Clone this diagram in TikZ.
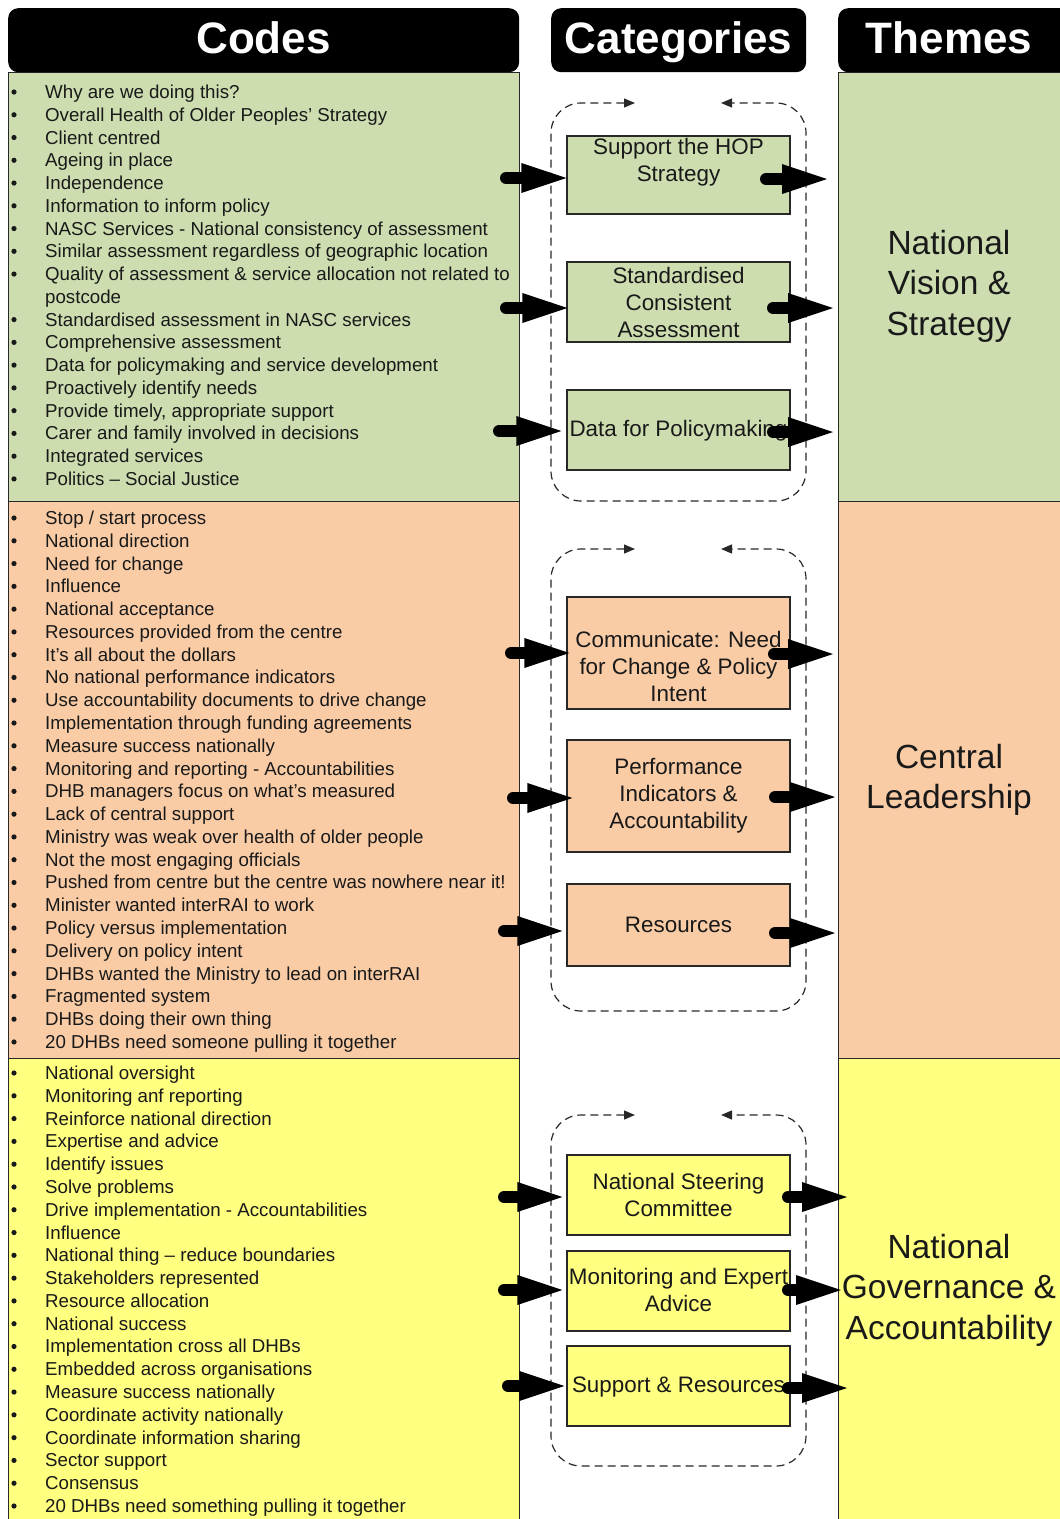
\documentclass[tikz,border=0pt]{standalone}
\usepackage{fontspec}
\setmainfont{Liberation Sans}
\usetikzlibrary{arrows.meta}
\definecolor{codegreen}{RGB}{205,221,176}
\definecolor{codeorange}{RGB}{249,204,166}
\definecolor{codeyellow}{RGB}{255,255,128}
\definecolor{ink}{RGB}{25,25,25}
\definecolor{edge}{RGB}{40,40,40}
\begin{document}
\begin{tikzpicture}[x=1pt,y=-1pt,
  panel/.style={draw=edge, line width=1.2pt, inner sep=0pt, anchor=north west},
  header/.style={fill=black, rounded corners=10pt, inner sep=0pt, anchor=north west, minimum height=64pt},
  headtxt/.style={anchor=base, inner sep=0pt, text=white, font=\fontsize{44}{50}\bfseries\selectfont},
  codetxt/.style={anchor=base west, inner sep=0pt, text=ink, font=\fontsize{18.7}{22}\selectfont},
  catbox/.style={draw=edge, line width=1.3pt, inner sep=0pt, minimum width=223pt},
  cattxt/.style={align=center, inner sep=0pt, text=ink, font=\fontsize{22.4}{27}\selectfont},
  themetxt/.style={align=center, inner sep=0pt, text=ink, font=\fontsize{33.5}{40.5}\selectfont},
  loopline/.style={draw=edge, line width=1.2pt, dash pattern=on 8pt off 5pt, rounded corners=30pt,
    {Triangle[length=11pt,width=9pt]}-{Triangle[length=11pt,width=9pt]}},
  bigarrow/.style={draw=black, line width=12pt, line cap=round,
    -{Triangle[length=45pt,width=30pt,line width=0pt]}}
]
\useasboundingbox (0,0) rectangle (1060,1519);
\clip (0,0) rectangle (1060,1519);

% ---- column panels ----
\node[panel, fill=codegreen,  minimum width=511pt, minimum height=429pt] (codesG) at (8,72) {};
\node[panel, fill=codeorange, minimum width=511pt, minimum height=557pt] (codesO) at (8,501) {};
\node[panel, fill=codeyellow, minimum width=511pt, minimum height=480pt] (codesY) at (8,1058) {};
\node[panel, fill=codegreen,  minimum width=240pt, minimum height=429pt] (themeG) at (838,72) {};
\node[panel, fill=codeorange, minimum width=240pt, minimum height=557pt] (themeO) at (838,501) {};
\node[panel, fill=codeyellow, minimum width=240pt, minimum height=480pt] (themeY) at (838,1058) {};

% ---- headers ----
\node[header, minimum width=511pt] (hCodes) at (8,8) {};
\node[header, minimum width=255pt] (hCats) at (551,8) {};
\node[header, minimum width=240pt] (hThemes) at (838,8) {};
\node[headtxt] (tCodes) at (263.5,53.5) {Codes};
\node[headtxt] (tCats) at (678.5,53.5) {Categories};
\node[headtxt] (tThemes) at (949,53.5) {Themes};

% ---- code lists ----
\foreach \t [count=\i from 0] in {
  Why are we doing this?,
  Overall Health of Older Peoples’ Strategy,
  Client centred,
  Ageing in place,
  Independence,
  Information to inform policy,
  NASC Services - National consistency of assessment,
  Similar assessment regardless of geographic location,
  Quality of assessment \& service allocation not related to,
  postcode,
  Standardised assessment in NASC services,
  Comprehensive assessment,
  Data for policymaking and service development,
  Proactively identify needs,
  {Provide timely, appropriate support},
  Carer and family involved in decisions,
  Integrated services,
  Politics – Social Justice}{
  \node[codetxt] (cg\i) at (45,{92+22.76*\i+6.5}) {\t};
  \ifnum\i=9\else\fill[ink] (14,{92+22.76*\i}) circle (2.6pt);\fi
}
\foreach \t [count=\i from 0] in {
  Stop / start process,
  National direction,
  Need for change,
  Influence,
  National acceptance,
  Resources provided from the centre,
  It's all about the dollars,
  No national performance indicators,
  Use accountability documents to drive change,
  Implementation through funding agreements,
  Measure success nationally,
  Monitoring and reporting - Accountabilities,
  DHB managers focus on what's measured,
  Lack of central support,
  Ministry was weak over health of older people,
  Not the most engaging officials,
  Pushed from centre but the centre was nowhere near it!,
  Minister wanted interRAI to work,
  Policy versus implementation,
  Delivery on policy intent,
  DHBs wanted the Ministry to lead on interRAI,
  Fragmented system,
  DHBs doing their own thing,
  20 DHBs need someone pulling it together}{
  \node[codetxt] (co\i) at (45,{518+22.78*\i+6.5}) {\t};
  \fill[ink] (14,{518+22.78*\i}) circle (2.6pt);
}
\foreach \t [count=\i from 0] in {
  National oversight,
  Monitoring anf reporting,
  Reinforce national direction,
  Expertise and advice,
  Identify issues,
  Solve problems,
  Drive implementation - Accountabilities,
  Influence,
  National thing – reduce boundaries,
  Stakeholders represented,
  Resource allocation,
  National success,
  Implementation cross all DHBs,
  Embedded across organisations,
  Measure success nationally,
  Coordinate activity nationally,
  Coordinate information sharing,
  Sector support,
  Consensus,
  20 DHBs need something pulling it together}{
  \node[codetxt] (cy\i) at (45,{1073+22.79*\i+6.5}) {\t};
  \fill[ink] (14,{1073+22.79*\i}) circle (2.6pt);
}

% ---- dashed feedback loops ----
\draw[loopline] (635,103) -- (551,103) -- (551,501) -- (806,501) -- (806,103) -- (721,103);
\draw[loopline] (635,549) -- (551,549) -- (551,1011) -- (806,1011) -- (806,549) -- (721,549);
\draw[loopline] (635,1115) -- (551,1115) -- (551,1466) -- (806,1466) -- (806,1115) -- (721,1115);

% ---- category boxes ----
\node[catbox, fill=codegreen,  minimum height=78pt]  (gc1) at (678.5,175) {};
\node[catbox, fill=codegreen,  minimum height=80pt]  (gc2) at (678.5,302) {};
\node[catbox, fill=codegreen,  minimum height=80pt]  (gc3) at (678.5,430) {};
\node[catbox, fill=codeorange, minimum height=112pt] (oc1) at (678.5,653) {};
\node[catbox, fill=codeorange, minimum height=112pt] (oc2) at (678.5,796) {};
\node[catbox, fill=codeorange, minimum height=82pt]  (oc3) at (678.5,925) {};
\node[catbox, fill=codeyellow, minimum height=80pt]  (yc1) at (678.5,1195) {};
\node[catbox, fill=codeyellow, minimum height=80pt]  (yc2) at (678.5,1291) {};
\node[catbox, fill=codeyellow, minimum height=80pt]  (yc3) at (678.5,1386) {};

\node[cattxt] (gt1) at (678.5,162) {Support the HOP\\Strategy};
\node[cattxt] (gt2) at (678.5,302) {Standardised\\Consistent\\Assessment};
\node[cattxt] (gt3) at (678.5,431) {Data for Policymaking};
\node[cattxt] (ot1) at (678.5,666) {Communicate: Need\\for Change \& Policy\\Intent};
\node[cattxt] (ot2) at (678.5,796) {Performance\\Indicators \&\\Accountability};
\node[cattxt] (ot3) at (678.5,925) {Resources};
\node[cattxt] (yt1) at (678.5,1195) {National Steering\\Committee};
\node[cattxt] (yt2) at (678.5,1290) {Monitoring and Expert\\Advice};
\node[cattxt] (yt3) at (678.5,1387) {Support \& Resources};

% ---- theme labels ----
\node[themetxt] (thG) at (949,286) {National\\Vision \&\\Strategy};
\node[themetxt] (thO) at (949,780) {Central\\Leadership};
\node[themetxt] (thY) at (949,1290) {National\\Governance \&\\Accountability};

% ---- arrows: codes -> categories ----
\coordinate (lg1) at (506,178);  \draw[bigarrow] (lg1) -- (lg1 -| gc1.west);
\coordinate (lg2) at (506,308);  \draw[bigarrow] (lg2) -- ([xshift=1pt]lg2 -| gc2.west);
\coordinate (lg3) at (499,431);  \draw[bigarrow] (lg3) -- ([xshift=-5pt]lg3 -| gc3.west);
\coordinate (lo1) at (511,653);  \draw[bigarrow] (lo1) -- ([xshift=3pt]lo1 -| oc1.west);
\coordinate (lo2) at (513,798);  \draw[bigarrow] (lo2) -- ([xshift=6pt]lo2 -| oc2.west);
\coordinate (lo3) at (504,931);  \draw[bigarrow] (lo3) -- ([xshift=-4pt]lo3 -| oc3.west);
\coordinate (ly1) at (504,1197); \draw[bigarrow] (ly1) -- ([xshift=-4pt]ly1 -| yc1.west);
\coordinate (ly2) at (504,1290); \draw[bigarrow] (ly2) -- ([xshift=-4pt]ly2 -| yc2.west);
\coordinate (ly3) at (508,1386); \draw[bigarrow] (ly3) -- ([xshift=-2pt]ly3 -| yc3.west);

% ---- arrows: categories -> themes ----
\coordinate (rg1) at (766,179);  \draw[bigarrow] (rg1) -- ([xshift=-11pt]rg1 -| themeG.west);
\coordinate (rg2) at (773,308);  \draw[bigarrow] (rg2) -- ([xshift=-5pt]rg2 -| themeG.west);
\coordinate (rg3) at (773,432);  \draw[bigarrow] (rg3) -- ([xshift=-5pt]rg3 -| themeG.west);
\coordinate (ro1) at (774,654);  \draw[bigarrow] (ro1) -- ([xshift=-5pt]ro1 -| themeO.west);
\coordinate (ro2) at (775,797);  \draw[bigarrow] (ro2) -- ([xshift=-3pt]ro2 -| themeO.west);
\coordinate (ro3) at (775,933);  \draw[bigarrow] (ro3) -- ([xshift=-3pt]ro3 -| themeO.west);
\coordinate (ry1) at (788,1197); \draw[bigarrow] (ry1) -- ([xshift=9pt]ry1 -| themeY.west);
\coordinate (ry2) at (788,1290); \draw[bigarrow] (ry2) -- ([xshift=3pt]ry2 -| themeY.west);
\coordinate (ry3) at (788,1388); \draw[bigarrow] (ry3) -- ([xshift=9pt]ry3 -| themeY.west);
\end{tikzpicture}
\end{document}
